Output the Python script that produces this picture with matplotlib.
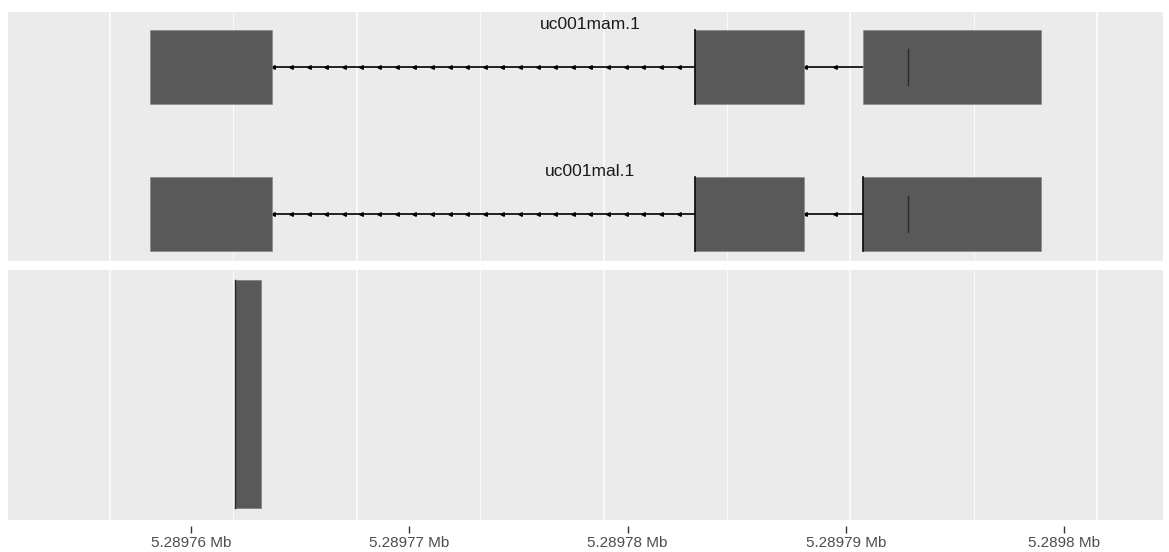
import numpy as np
import matplotlib
matplotlib.use("Agg")
import matplotlib.pyplot as plt
from matplotlib.patches import Rectangle

# genomic coordinates (bp), offsets from 5,289,760
base = 5289760
transcripts = ["uc001mam.1", "uc001mal.1"]
exon_starts = [1.62, 23.71, 30.52]
exon_ends = [6.57, 28.13, 37.73]
intron_arrow_step = [0.714, 1.2]
cds_mark = 32.34
track_starts = [5.07]
track_ends = [6.12]
grid_pos = [0, 10, 20, 30, 40]
xlim = (-4.13, 42.67)
# the axis labels come from a separately scaled axis (as in the original)
tick_pos = [0, 10, 20, 30, 40]
tick_labels = ["5.28976 Mb", "5.28977 Mb", "5.28978 Mb", "5.28979 Mb", "5.2898 Mb"]
label_xlim = (-8.38, 44.53)

plt.rcParams['font.family'] = ['Liberation Sans', 'DejaVu Sans']
fig = plt.figure(figsize=(11.69, 5.52), dpi=100)
W, H = 1169, 552
ax1 = fig.add_axes([8 / W, 1 - 261 / H, 1155 / W, 249 / H])
ax2 = fig.add_axes([8 / W, 1 - 520 / H, 1155 / W, 250 / H], sharex=ax1)

bg = '#EBEBEB'
fill = '#595959'
for ax in (ax1, ax2):
    ax.set_facecolor(bg)
    for s in ax.spines.values():
        s.set_visible(False)
    ax.set_xticks(grid_pos)
    ax.set_xticks([p + 5 for p in grid_pos[:-1]] + [-5], minor=True)
    ax.grid(True, which='major', color='white', lw=1.1)
    ax.grid(True, which='minor', color='white', lw=0.55)
    ax.set_axisbelow(True)
    ax.set_yticks([])
    ax.tick_params(axis='y', left=False)
    ax.tick_params(axis='x', which='both', bottom=False, labelbottom=False)
ax1.set_xlim(*xlim)

# top panel: gene models
bh = 0.5
for i, name in enumerate(transcripts):
    y = i + 1
    for s, e in zip(exon_starts, exon_ends):
        ax1.add_patch(Rectangle((s, y - bh / 2), e - s, bh, facecolor=fill,
                                edgecolor='#8a8a8a', lw=0.5, zorder=3))
    # introns with direction arrows
    for s, e, step in zip(exon_ends[:-1], exon_starts[1:], intron_arrow_step):
        ax1.plot([s, e], [y, y], color='black', lw=1.2, zorder=2)
        arr = np.arange(s + 0.05, e - 0.3, step)
        ax1.plot(arr, np.full_like(arr, y), ls='none', marker='<', ms=2.6,
                 color='black', zorder=2)
    ax1.plot([exon_starts[1]] * 2, [y - bh / 2, y + bh / 2], color='black', lw=1.2, zorder=4)
    if i == 1:
        ax1.plot([exon_starts[2]] * 2, [y - bh / 2, y + bh / 2], color='black', lw=1.2, zorder=4)
    ax1.plot([cds_mark] * 2, [y - 0.125, y + 0.125], color='#2a2a2a', lw=1.0, zorder=4)
    ax1.text((xlim[0] + xlim[1]) / 2 + 0.2, y - 0.29, name, ha='center', va='center',
             fontsize=12.5, color='#1a1a1a')
ax1.set_ylim(2.32, 0.626)

# bottom panel: single range
for s, e in zip(track_starts, track_ends):
    ax2.add_patch(Rectangle((s, 0.048), e - s, 0.912, facecolor=fill,
                            edgecolor='#7a7a7a', lw=0.5, zorder=3))
    ax2.plot([s, s], [0.048, 0.96], color='#2a2a2a', lw=1.0, zorder=4)
ax2.set_ylim(0, 1)

k = (label_xlim[1] - label_xlim[0]) / (xlim[1] - xlim[0])
fwd = lambda g: label_xlim[0] + (np.asarray(g) - xlim[0]) * k
inv = lambda l: xlim[0] + (np.asarray(l) - label_xlim[0]) / k
sec = ax2.secondary_xaxis(-0.024, functions=(fwd, inv))
sec.spines['bottom'].set_visible(False)
sec.set_xticks(tick_pos)
sec.set_xticklabels(tick_labels)
sec.tick_params(axis='x', which='major', bottom=True, length=5, width=1.0, color='#333333',
                labelsize=11, labelcolor='#4d4d4d', pad=2, direction='out')
sec.tick_params(axis='x', which='minor', length=0)

fig.savefig("out.png", dpi=100)
